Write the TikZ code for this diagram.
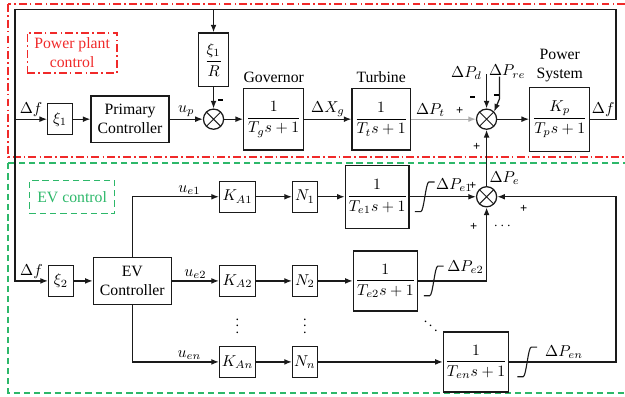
\documentclass[tikz,border=0pt]{standalone}
\usepackage{amsmath}
\usepackage{fontspec}
\setmainfont{Liberation Serif}
\usetikzlibrary{positioning,arrows.meta,calc}
\definecolor{ppred}{HTML}{F02A2A}
\definecolor{evgreen}{HTML}{2DB86A}
\definecolor{lnk}{HTML}{1A1A1A}
\tikzset{
  blk/.style   ={draw=lnk,line width=0.8pt,align=center,inner sep=1pt,font=\normalsize},
  gain/.style  ={blk,minimum width=5.5mm,minimum height=6.9mm},
  tf/.style    ={blk,minimum width=13.4mm,minimum height=13.8mm},
  sumj/.style  ={circle,draw=lnk,line width=0.8pt,minimum size=4.5mm,inner sep=0pt,
                 path picture={\draw[line width=0.6pt]
                   (path picture bounding box.north west) -- (path picture bounding box.south east)
                   (path picture bounding box.south west) -- (path picture bounding box.north east);}},
  arr/.style   ={-{Latex[length=1.7mm,width=1.3mm]},line width=0.8pt,draw=lnk},
  wire/.style  ={line width=0.8pt,draw=lnk},
  lbl/.style   ={font=\normalsize,inner sep=1pt},
  sgn/.style   ={font=\footnotesize\bfseries,inner sep=0pt},
  dotsn/.style ={inner sep=0pt,font=\small},
  ppframe/.style={draw=ppred,line width=0.9pt,dash pattern=on 5pt off 2pt on 1pt off 2pt},
  evframe/.style={draw=evgreen,line width=0.9pt,dash pattern=on 4pt off 2.5pt},
  limiter/.pic ={\draw[line width=0.7pt,lnk] (-2.2mm,-3.3mm) -- (-0.9mm,-3.3mm)
                 .. controls (-0.2mm,-3.3mm) and (0.2mm,3.3mm) .. (0.9mm,3.3mm) -- (2.2mm,3.3mm);},
}
\newcommand{\negsign}{\rule[0.6ex]{1.1mm}{0.45mm}}

\begin{document}
\begin{tikzpicture}
  \useasboundingbox (0,0) rectangle (139.5mm,-88.4mm);

  % frames
  \draw[ppframe] (1.8mm,-0.9mm) rectangle (142mm,-35mm);
  \draw[evframe] (1.8mm,-36.4mm) rectangle (142mm,-87.7mm);
  \node[ppframe,text=ppred,align=center,minimum width=20mm,minimum height=8.9mm,inner sep=1pt]
        (pplbl) at (16.1mm,-11.8mm) {Power plant\\control};
  \node[evframe,text=evgreen,minimum width=19mm,minimum height=7.4mm,inner sep=1pt]
        (evlbl) at (16.1mm,-44mm) {EV control};

  % power plant loop
  \node[gain] (xi1) at (13.4mm,-26.6mm) {$\xi_1$};
  \node[blk, right=3.9mm of xi1, minimum width=17.4mm, minimum height=10.3mm] (pc) {Primary\\Controller};
  \node[sumj, right=7.4mm of pc] (s1) {};
  \node[tf, right=4.2mm of s1] (gov) {$\dfrac{1}{T_g s+1}$};
  \node[tf, right=10.5mm of gov, minimum width=13mm] (tur) {$\dfrac{1}{T_t s+1}$};
  \node[sumj, right=14.5mm of tur] (s2) {};
  \node[tf, right=7.1mm of s2, minimum height=14.3mm] (ps) {$\dfrac{K_p}{T_p s+1}$};
  \node[blk, above=4.7mm of s1, minimum width=6.7mm, minimum height=12mm] (xir) {$\dfrac{\xi_1}{R}$};

  \node[lbl, above=0.8mm of gov] (govt) {Governor};
  \node[lbl, above=0.8mm of tur] (turt) {Turbine};
  \node[lbl, above=0.6mm of ps, align=center] (pst) {Power\\System};

  % EV loop
  \node[gain] (xi2) at (13.6mm,-62.7mm) {$\xi_2$};
  \node[blk, right=4.2mm of xi2, minimum width=17.4mm, minimum height=10.5mm] (evc) {EV\\Controller};
  \node[gain, right=10.5mm of evc, minimum width=8mm] (ka2) {$K_{A2}$};
  \node[gain, right=8mm of ka2] (n2) {$N_2$};
  \node[tf, right=7.8mm of n2, minimum width=14.3mm, minimum height=13.4mm] (te2) {$\dfrac{1}{T_{e2}s+1}$};
  \node[gain, above=11.6mm of ka2, minimum width=8mm] (ka1) {$K_{A1}$};
  \node[gain, right=8mm of ka1] (n1) {$N_1$};
  \node[tf, right=6mm of n1, minimum width=14mm, minimum height=14mm] (te1) {$\dfrac{1}{T_{e1}s+1}$};
  \node[gain, below=10.9mm of ka2, minimum width=8mm] (kan) {$K_{An}$};
  \node[gain, right=8mm of kan] (nn) {$N_n$};
  \node[tf, right=27.9mm of nn, minimum width=14.3mm, minimum height=13.4mm] (ten) {$\dfrac{1}{T_{en}s+1}$};
  \node[sumj] (s3) at (s2 |- ka1) {};

  \node[dotsn] (dka) at ($(ka2)!0.5!(kan)$) {$\vdots$};
  \node[dotsn] (dn)  at ($(n2)!0.5!(nn)$) {$\vdots$};
  \node[dotsn] (dte) at ($(te2)!0.5!(ten)$) {$\ddots$};

  % feedback of the frequency deviation
  \coordinate (tl) at (3.35mm,-2.2mm);
  \coordinate (tr) at (137.5mm,-2.2mm);
  \draw[arr] (ps.east) -- node[lbl,above]{$\Delta f$} (ps.east -| tr) -- (tr) -- (tl)
             |- node[lbl,above,pos=0.75]{$\Delta f$} (xi2.west);
  \draw[arr] (tl |- xi1) -- node[lbl,above]{$\Delta f$} (xi1);
  \draw[arr] (tl -| xir) -- (xir);

  \draw[arr] (xi1) -- (pc);
  \draw[arr] (pc) -- node[lbl,above]{$u_p$} (s1);
  \draw[arr] (xir) -- (s1);
  \draw[arr] (s1) -- (gov);
  \draw[arr] (gov) -- node[lbl,above]{$\Delta X_g$} (tur);
  \draw[arr,draw=gray!65] (tur) -- node[lbl,above,pos=0.3]{$\Delta P_t$} (s2);
  \draw[arr] (s2) -- (ps);

  % disturbances
  \coordinate (pd)  at ([yshift=10mm]s2.center);
  \coordinate (pre) at ([shift={(2.9mm,9.5mm)}]s2.center);
  \node[lbl] (pdl) at ([shift={(-4.5mm,10.3mm)}]s2.center) {$\Delta P_d$};
  \node[lbl] (prl) at ([shift={(4.6mm,10.6mm)}]s2.center) {$\Delta P_{re}$};
  \draw[arr] (pd) -- (s2.north);
  \draw[arr] (pre) -- ++(0,-4.9mm) -- (s2.north east);

  % EV branches
  \draw[arr] (xi2) -- (evc);
  \draw[arr] (evc) -- node[lbl,above]{$u_{e2}$} (ka2);
  \draw[arr] (evc.north) |- node[lbl,above,pos=0.83]{$u_{e1}$} (ka1);
  \draw[arr] (evc.south) |- node[lbl,above,pos=0.83]{$u_{en}$} (kan);
  \draw[arr] (ka1) -- (n1);
  \draw[arr] (n1) -- (te1);
  \draw[arr] (ka2) -- (n2);
  \draw[arr] (n2) -- (te2);
  \draw[arr] (kan) -- (nn);
  \draw[arr] (nn) -- (ten);

  % limited outputs into the EV sum
  \coordinate (lim1) at ([xshift=3.4mm]te1.east);
  \coordinate (lim2) at ([xshift=3.5mm]te2.east);
  \coordinate (limn) at ([xshift=4mm]ten.east);
  \draw[arr] (te1) -- (s3);
  \draw[arr] (te2) -| (s3);
  \draw[arr] (ten) -- (ten -| tr) |- (s3);
  \draw[arr] (s3) -- (s2);
  \pic at (lim1) {limiter};
  \pic at (lim2) {limiter};
  \pic at (limn) {limiter};
  \node[lbl,anchor=west] (pe1) at ([shift={(2.1mm,2.6mm)}]lim1) {$\Delta P_{e1}$};
  \node[lbl,anchor=west] (pe2) at ([shift={(2.6mm,3.1mm)}]lim2) {$\Delta P_{e2}$};
  \node[lbl,anchor=west] (pen) at ([shift={(3.6mm,2.2mm)}]limn) {$\Delta P_{en}$};
  \node[lbl] (pe) at ([shift={(4mm,4.2mm)}]s3.center) {$\Delta P_e$};

  % signs
  \node[sgn] (g1) at ([shift={(1.6mm,4mm)}]s1.center) {\negsign};
  \node[sgn] (g2) at ([shift={(-6mm,1.8mm)}]s2.center) {+};
  \node[sgn] (g3) at ([shift={(-3.1mm,4.5mm)}]s2.center) {\negsign};
  \node[sgn] (g4) at ([shift={(2.2mm,4.9mm)}]s2.center) {\negsign};
  \node[sgn] (g5) at ([shift={(-2.2mm,-6.2mm)}]s2.center) {+};
  \node[sgn] (g6) at ([shift={(-3.1mm,2.4mm)}]s3.center) {+};
  \node[sgn] (g7) at ([shift={(-2.9mm,-6.7mm)}]s3.center) {+};
  \node[sgn] (g8) at ([shift={(8.3mm,-2.7mm)}]s3.center) {+};
  \node[dotsn] (g9) at ([shift={(3.8mm,-6.5mm)}]s3.center) {$\cdots$};
\end{tikzpicture}
\end{document}
